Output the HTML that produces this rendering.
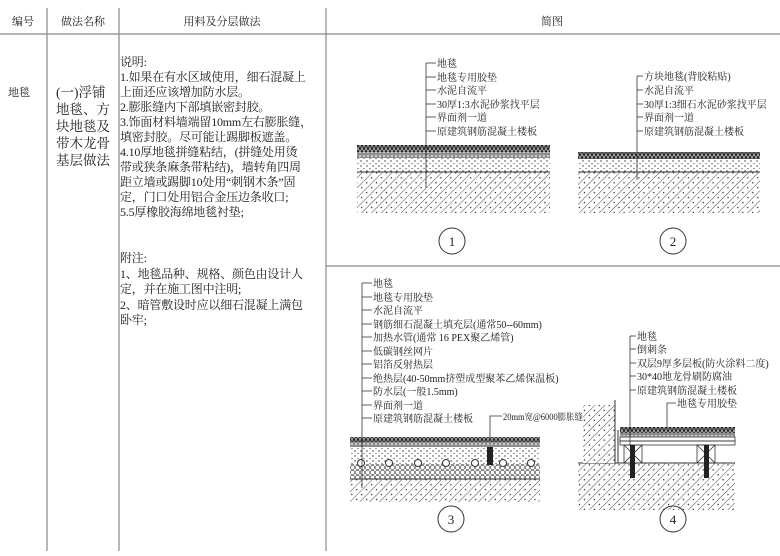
<!DOCTYPE html>
<html><head><meta charset="utf-8"><style>
body{margin:0;background:#fff}
svg text{font-family:"Liberation Serif","Noto Serif CJK SC","Noto Sans CJK SC",serif;fill:#222}
</style></head><body>
<svg width="780" height="551" viewBox="0 0 780 551" xmlns="http://www.w3.org/2000/svg">
<defs>
<pattern id="hatch" width="7" height="7" patternUnits="userSpaceOnUse" patternTransform="rotate(45)">
<rect width="7" height="7" fill="#fff"/><line x1="0" y1="0" x2="0" y2="7" stroke="#333" stroke-width="0.9"/>
<circle cx="3.5" cy="3" r="0.7" fill="#222"/></pattern>
<pattern id="dots" width="6" height="5" patternUnits="userSpaceOnUse">
<rect width="6" height="5" fill="#fff"/><circle cx="1" cy="1" r="0.7" fill="#333"/><circle cx="4" cy="3.5" r="0.6" fill="#444"/></pattern>
<pattern id="carpet" width="4" height="6" patternUnits="userSpaceOnUse">
<rect width="4" height="6" fill="#999"/><path d="M0 6 L2 0 L4 6" stroke="#111" fill="none" stroke-width="0.9"/></pattern>
<pattern id="pad" width="4" height="4" patternUnits="userSpaceOnUse">
<rect width="4" height="4" fill="#ccc"/><circle cx="2" cy="2" r="1.2" fill="none" stroke="#333" stroke-width="0.6"/></pattern>
<pattern id="cells" width="5" height="5" patternUnits="userSpaceOnUse">
<rect width="5" height="5" fill="#fff"/><circle cx="2.5" cy="2.5" r="2.2" fill="none" stroke="#444" stroke-width="0.6"/></pattern>
</defs>
<g stroke="#888" stroke-width="1.2">
<line x1="0" y1="34" x2="780" y2="34"/>
<line x1="47" y1="8" x2="47" y2="551"/>
<line x1="119" y1="8" x2="119" y2="551"/>
<line x1="326" y1="8" x2="326" y2="551"/>
<line x1="326" y1="266" x2="780" y2="266"/>
</g>
<g font-size="11" text-anchor="middle">
<text x="23" y="25">编号</text><text x="83" y="25">做法名称</text><text x="222" y="25">用料及分层做法</text><text x="552" y="25">简图</text>
</g>
<text x="8" y="96" font-size="11">地毯</text>
<g font-size="13.5"><text x="56" y="97">(一)浮铺</text><text x="56" y="114">地毯、方</text><text x="56" y="131">块地毯及</text><text x="56" y="148">带木龙骨</text><text x="56" y="165">基层做法</text></g>
<g font-size="12" letter-spacing="-0.2">
<text x="120" y="66">说明:</text>
<text x="120" y="81">1.如果在有水区域使用，细石混凝上</text>
<text x="120" y="96">上面还应该增加防水层。</text>
<text x="120" y="111">2.膨胀缝内下部填嵌密封胶。</text>
<text x="120" y="126">3.饰面材料墙端留10mm左右膨胀缝，</text>
<text x="120" y="141">填密封胶。尽可能让踢脚板遮盖。</text>
<text x="120" y="156">4.10厚地毯拼缝粘结，(拼缝处用烫</text>
<text x="120" y="171">带或狭条麻条带粘结)，墙转角四周</text>
<text x="120" y="186">距立墙或踢脚10处用“刺钢木条”固</text>
<text x="120" y="201">定，门口处用铝合金压边条收口;</text>
<text x="120" y="216">5.5厚橡胶海绵地毯衬垫;</text>
<text x="120" y="262">附注:</text>
<text x="120" y="278">1、地毯品种、规格、颜色由设计人</text>
<text x="120" y="293">定，并在施工图中注明;</text>
<text x="120" y="309">2、暗管敷设时应以细石混凝上满包</text>
<text x="120" y="324">卧牢;</text>
</g>
<!-- Diagram 1 -->
<rect x="357" y="172" width="193" height="41" fill="url(#hatch)"/>
<rect x="357" y="158" width="193" height="14" fill="url(#dots)"/>
<rect x="357" y="145" width="193" height="7" fill="url(#carpet)"/>
<rect x="357" y="152" width="193" height="6" fill="url(#pad)"/>
<line x1="357" y1="172" x2="550" y2="172" stroke="#333"/>
<g stroke="#333" stroke-width="0.8"><line x1="426" y1="63" x2="426" y2="188"/>
<line x1="426" y1="63" x2="436" y2="63"/><line x1="426" y1="77" x2="436" y2="77"/><line x1="426" y1="90" x2="436" y2="90"/><line x1="426" y1="104" x2="436" y2="104"/><line x1="426" y1="117" x2="436" y2="117"/><line x1="426" y1="131" x2="436" y2="131"/></g>
<g font-size="10"><text x="437" y="67">地毯</text><text x="437" y="81">地毯专用胶垫</text><text x="437" y="94">水泥自流平</text><text x="437" y="108">30厚1:3水泥砂浆找平层</text><text x="437" y="121">界面剂一道</text><text x="437" y="135">原建筑钢筋混凝土楼板</text></g>
<circle cx="452" cy="241" r="13" fill="none" stroke="#333"/><text x="452" y="246" font-size="13" text-anchor="middle" font-family="Liberation Sans">1</text>
<!-- Diagram 2 -->
<rect x="578" y="172" width="182" height="41" fill="url(#hatch)"/>
<rect x="578" y="152" width="182" height="7" fill="url(#carpet)"/>
<rect x="578" y="159" width="182" height="13" fill="url(#dots)"/>
<line x1="578" y1="172" x2="760" y2="172" stroke="#333"/>
<g stroke="#333" stroke-width="0.8"><line x1="637" y1="76" x2="637" y2="180"/>
<line x1="637" y1="76" x2="643" y2="76"/><line x1="637" y1="90" x2="643" y2="90"/><line x1="637" y1="104" x2="643" y2="104"/><line x1="637" y1="117" x2="643" y2="117"/><line x1="637" y1="131" x2="643" y2="131"/></g>
<g font-size="10"><text x="644" y="80">方块地毯(背胶粘贴)</text><text x="644" y="94">水泥自流平</text><text x="644" y="108">30厚1:3细石水泥砂浆找平层</text><text x="644" y="121">界面剂一道</text><text x="644" y="135">原建筑钢筋混凝土楼板</text></g>
<circle cx="673" cy="241" r="13" fill="none" stroke="#333"/><text x="673" y="246" font-size="13" text-anchor="middle" font-family="Liberation Sans">2</text>
<!-- Diagram 3 -->
<rect x="350" y="479" width="190" height="23" fill="url(#hatch)"/>
<rect x="350" y="464" width="190" height="15" fill="url(#cells)"/>
<rect x="350" y="447" width="190" height="17" fill="url(#dots)"/>
<rect x="350" y="437" width="190" height="5" fill="url(#carpet)"/>
<rect x="350" y="442" width="190" height="5" fill="url(#pad)"/>
<line x1="350" y1="479" x2="540" y2="479" stroke="#333"/>
<g fill="#fff" stroke="#333" stroke-width="1"><circle cx="361" cy="463" r="3.5"/><circle cx="389" cy="463" r="3.5"/><circle cx="418" cy="463" r="3.5"/><circle cx="446" cy="463" r="3.5"/><circle cx="475" cy="463" r="3.5"/><circle cx="503" cy="463" r="3.5"/><circle cx="531" cy="463" r="3.5"/></g>
<rect x="487" y="447" width="6" height="18" fill="#222"/>
<g stroke="#333" stroke-width="0.8"><line x1="362" y1="283" x2="362" y2="488"/>
<line x1="362" y1="283" x2="372" y2="283"/><line x1="362" y1="297" x2="372" y2="297"/><line x1="362" y1="310" x2="372" y2="310"/><line x1="362" y1="324" x2="372" y2="324"/><line x1="362" y1="337" x2="372" y2="337"/><line x1="362" y1="351" x2="372" y2="351"/><line x1="362" y1="364" x2="372" y2="364"/><line x1="362" y1="378" x2="372" y2="378"/><line x1="362" y1="391" x2="372" y2="391"/><line x1="362" y1="405" x2="372" y2="405"/><line x1="362" y1="418" x2="372" y2="418"/>
<polyline points="490,440 490,416 502,416" fill="none"/></g>
<g font-size="10"><text x="373" y="287">地毯</text><text x="373" y="301">地毯专用胶垫</text><text x="373" y="314">水泥自流平</text><text x="373" y="328">钢筋细石混凝土填充层(通常50--60mm)</text><text x="373" y="341">加热水管(通常 16 PEX聚乙烯管)</text><text x="373" y="355">低碳钢丝网片</text><text x="373" y="368">铝箔反射热层</text><text x="373" y="382">绝热层(40-50mm挤塑成型聚苯乙烯保温板)</text><text x="373" y="395">防水层(一般1.5mm)</text><text x="373" y="409">界面剂一道</text><text x="373" y="422">原建筑钢筋混凝土楼板</text></g>
<text x="503" y="420" font-size="9" textLength="80" lengthAdjust="spacingAndGlyphs">20mm宽@6000膨胀缝</text>
<circle cx="451" cy="519" r="13" fill="none" stroke="#333"/><text x="451" y="524" font-size="13" text-anchor="middle" font-family="Liberation Sans">3</text>
<!-- Diagram 4 -->
<rect x="578" y="463" width="157" height="47" fill="url(#hatch)"/>
<line x1="578" y1="463" x2="735" y2="463" stroke="#333"/>
<rect x="583" y="405" width="32" height="58" fill="url(#hatch)"/>
<line x1="615" y1="400" x2="615" y2="463" stroke="#333"/><line x1="618" y1="430" x2="618" y2="463" stroke="#333"/>
<rect x="620" y="427" width="115" height="6" fill="url(#carpet)"/>
<rect x="620" y="433" width="115" height="4" fill="url(#pad)"/>
<g fill="none" stroke="#333" stroke-width="0.8"><rect x="620" y="437" width="115" height="4"/><rect x="620" y="441" width="115" height="4"/>
<rect x="624" y="445" width="18" height="18"/><path d="M624 445 L642 463 M642 445 L624 463"/>
<rect x="697" y="445" width="18" height="18"/><path d="M697 445 L715 463 M715 445 L697 463"/></g>
<rect x="630" y="445" width="5" height="33" fill="#222"/><rect x="704" y="445" width="5" height="33" fill="#222"/>
<g stroke="#333" stroke-width="0.8"><line x1="630" y1="336" x2="630" y2="445"/>
<line x1="630" y1="336" x2="636" y2="336"/><line x1="630" y1="349" x2="636" y2="349"/><line x1="630" y1="363" x2="636" y2="363"/><line x1="630" y1="376" x2="636" y2="376"/><line x1="630" y1="390" x2="636" y2="390"/>
<polyline points="667,430 667,403 676,403" fill="none"/></g>
<g font-size="10"><text x="637" y="340">地毯</text><text x="637" y="353">倒刺条</text><text x="637" y="367">双层9厚多层板(防火涂料二度)</text><text x="637" y="380">30*40地龙骨刷防腐油</text><text x="637" y="394">原建筑钢筋混凝土楼板</text><text x="677" y="407">地毯专用胶垫</text></g>
<circle cx="673" cy="519" r="13" fill="none" stroke="#333"/><text x="673" y="524" font-size="13" text-anchor="middle" font-family="Liberation Sans">4</text>
</svg>
</body></html>
